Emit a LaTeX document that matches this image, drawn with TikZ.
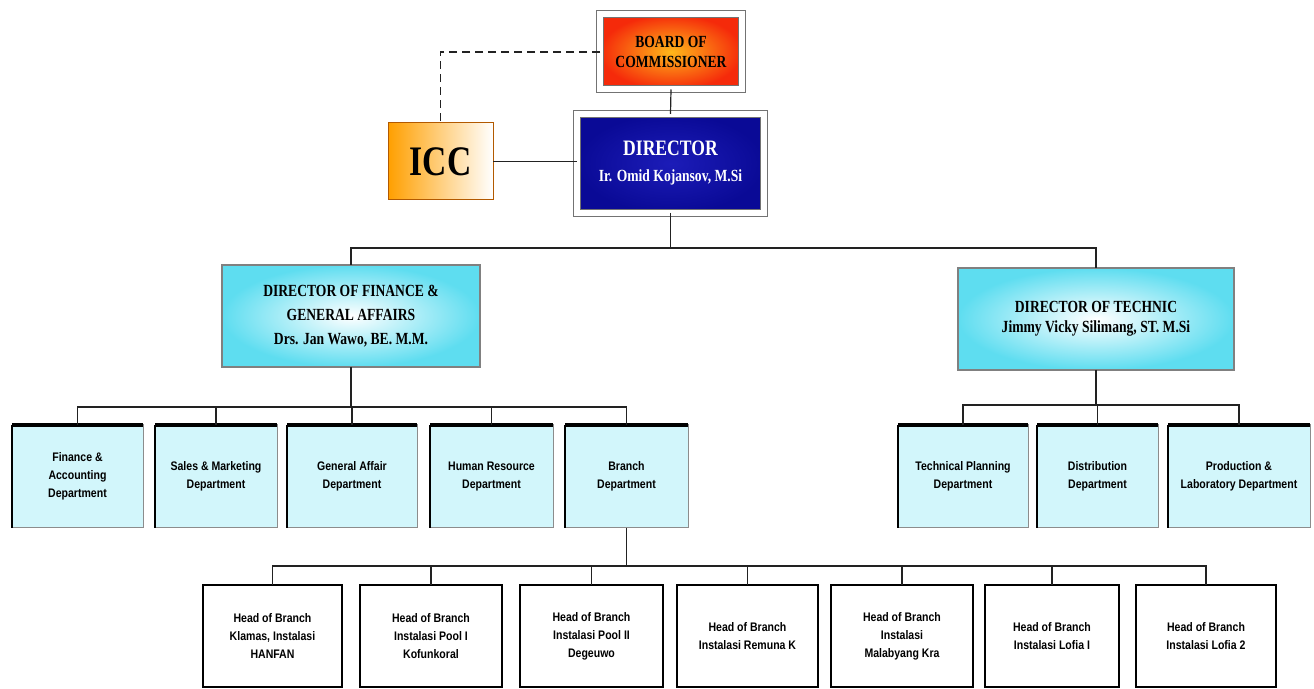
\documentclass[tikz,border=0pt]{standalone}
\usepackage{fontspec}
\setmainfont{Liberation Serif}
\newfontfamily\ser[FakeStretch=0.8]{Liberation Serif}
\newfontfamily\san[FakeStretch=0.85]{Liberation Sans}
\usetikzlibrary{positioning}
\definecolor{boardred}{HTML}{F52A0A}
\definecolor{boardyel}{HTML}{FFB81A}
\definecolor{navy}{HTML}{0A0A96}
\definecolor{navyc}{HTML}{1C1CB8}
\definecolor{skyc}{HTML}{5EDDF0}
\definecolor{deptfill}{HTML}{D2F6FB}
\definecolor{conn}{HTML}{222222}
\tikzset{
  box/.style={inner sep=0pt, outer sep=0pt, align=center},
  framed/.style={box, draw=black!55, line width=0.5pt, double=white, double distance=3pt},
  boardbox/.style={framed, inner color=boardyel, outer color=boardred,
     font=\ser\bfseries\fontsize{8.5}{10}\selectfont},
  dirbox/.style={framed, inner color=navyc, outer color=navy, text=white,
     font=\ser\bfseries\fontsize{11}{14}\selectfont},
  iccbox/.style={box, draw=orange!70!black, line width=0.5pt,
     left color=orange!75!yellow, middle color=white, right color=white,
     font=\ser\bfseries\fontsize{21}{24}\selectfont},
  mgrbox/.style={box, draw=black!50, line width=0.6pt, inner color=white, outer color=skyc,
     font=\ser\bfseries\fontsize{8.5}{12}\selectfont, text=black},
  deptbox/.style={box, draw=black!45, line width=0.5pt, fill=deptfill,
     minimum height=51.5pt, font=\san\bfseries\fontsize{6.2}{9}\selectfont,
     append after command={(\tikzlastnode.south west) edge[line width=1.4pt, black] (\tikzlastnode.north west)
        (\tikzlastnode.north west) edge[line width=1.8pt, black] (\tikzlastnode.north east)}},
  headbox/.style={box, draw=black, line width=1.1pt, fill=white,
     minimum height=51pt, font=\san\bfseries\fontsize{6.2}{9}\selectfont},
  link/.style={draw=conn, line width=0.6pt},
}
\begin{document}
\begin{tikzpicture}[x=0.5pt, y=-0.5pt]
\useasboundingbox[fill=white] (0,0) rectangle (1314,689);

% top level
\node[boardbox, minimum width=71pt, minimum height=37.5pt] (board) at (671,52) {BOARD OF\\COMMISSIONER};
\node[dirbox, minimum width=93.5pt, minimum height=49.5pt] (dir) at (670.5,163.5)
  {DIRECTOR\\[-1pt]{\fontsize{8.5}{10}\selectfont Ir. Omid Kojansov, M.Si}};
\node[iccbox, minimum width=52.5pt, minimum height=38.5pt] (icc) at (440.5,161.5) {ICC};

% directors
\node[mgrbox, minimum width=129pt, minimum height=51pt] (df) at (351,316)
  {DIRECTOR OF FINANCE \&\\GENERAL AFFAIRS\\Drs. Jan Wawo, BE. M.M.};
\node[mgrbox, minimum width=138pt, minimum height=51pt, font=\ser\bfseries\fontsize{8.5}{10}\selectfont] (dt) at (1096,319)
  {DIRECTOR OF TECHNIC\\Jimmy Vicky Silimang, ST. M.Si};

% departments
\node[deptbox, minimum width=65.5pt] (fin) at (77.5,476.5) {Finance \&\\Accounting\\Department};
\node[deptbox, minimum width=61pt] (sales) at (216,476.5) {Sales \& Marketing\\Department};
\node[deptbox, minimum width=65pt] (gen) at (352,476.5) {General Affair\\Department};
\node[deptbox, minimum width=61.5pt] (hr) at (491.5,476.5) {Human Resource\\Department};
\node[deptbox, minimum width=61.5pt] (branch) at (626.5,476.5) {Branch\\Department};
\node[deptbox, minimum width=65pt] (tp) at (963,476.5) {Technical Planning\\Department};
\node[deptbox, minimum width=60.5pt] (dist) at (1097.5,476.5) {Distribution\\Department};
\node[deptbox, minimum width=71pt] (prod) at (1239,476.5) {Production \&\\Laboratory Department};

% branch heads
\node[headbox, minimum width=69.5pt] (h1) at (272.5,636) {Head of Branch\\Klamas, Instalasi\\HANFAN};
\node[headbox, minimum width=71pt] (h2) at (431,636) {Head of Branch\\Instalasi Pool I\\Kofunkoral};
\node[headbox, minimum width=71.5pt] (h3) at (591.5,636) {Head of Branch\\Instalasi Pool II\\Degeuwo};
\node[headbox, minimum width=70.5pt] (h4) at (747.5,636) {Head of Branch\\Instalasi Remuna K};
\node[headbox, minimum width=71pt] (h5) at (902,636) {Head of Branch\\Instalasi\\Malabyang Kra};
\node[headbox, minimum width=67pt] (h6) at (1052,636) {Head of Branch\\Instalasi Lofia I};
\node[headbox, minimum width=70pt] (h7) at (1206,636) {Head of Branch\\Instalasi Lofia 2};

% bus coordinates
\coordinate (b1) at (670.5,248);
\coordinate (b2) at (351,407);
\coordinate (b3) at (1096,405);
\coordinate (b4) at (626.5,566);

% connectors
\draw[link, line width=0.9pt, dash pattern=on 4pt off 2.5pt] (board.west) -| (icc.north);
\draw[link] (board.south) -- (dir.north);
\draw[link] (icc.east) -- (icc.east -| dir.west);
\draw[link] (dir.south) -- (b1);
\draw[link] (df.north) |- (b1) -| (dt.north);
\draw[link] (df.south) -- (b2);
\draw[link] (fin.north) |- (b2) -| (branch.north);
\foreach \n in {sales,gen,hr} \draw[link] (\n.north) -- (\n.north |- b2);
\draw[link] (dt.south) -- (b3);
\draw[link] (tp.north) |- (b3) -| (prod.north);
\draw[link] (dist.north) -- (dist.north |- b3);
\draw[link] (branch.south) -- (b4);
\draw[link] (h1.north) |- (b4) -| (h7.north);
\foreach \n in {h2,h3,h4,h5,h6} \draw[link] (\n.north) -- (\n.north |- b4);
\end{tikzpicture}
\end{document}
